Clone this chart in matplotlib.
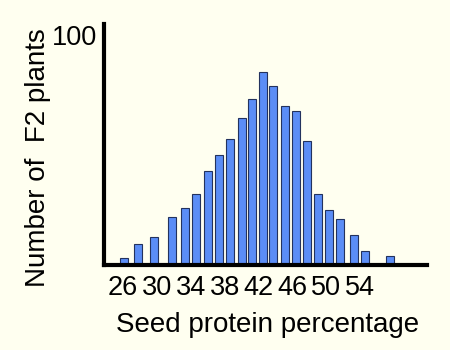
import matplotlib.pyplot as plt

plt.rcParams['font.family'] = ['Liberation Sans', 'DejaVu Sans']

# bar centres (seed protein %) and counts
protein = [26.1, 27.8, 29.7, 31.8, 33.3, 34.6, 36.0, 37.3, 38.7, 40.1, 41.3,
           42.6, 43.7, 45.1, 46.5, 47.8, 49.1, 50.3, 51.7, 53.3, 54.6, 57.6]
plants = [3, 9, 12, 21, 25, 31, 41, 48, 55, 64, 72,
          84, 78, 69, 67, 54, 31, 24, 20, 13, 6, 4]
xticks = [26, 30, 34, 38, 42, 46, 50, 54]
yticks = [100]

bg = '#FFFFF0'
fig = plt.figure(figsize=(4.5, 3.5), dpi=100, facecolor=bg)
ax = fig.add_axes([0.2311, 0.2429, 0.7178, 0.6885], facecolor=bg)

ax.bar(protein, plants, width=0.95, color='#5B8DF6', edgecolor='#23325e', linewidth=0.8)

ax.set_xlim(23.75, 61.93)
ax.set_ylim(0, 104.8)
ax.set_xticks(xticks)
ax.set_yticks(yticks)
ax.tick_params(length=0, labelsize=19.5)
ax.tick_params(axis='x', pad=7)
ax.tick_params(axis='y', pad=5)

for s in ['top', 'right']:
    ax.spines[s].set_visible(False)
for s in ['left', 'bottom']:
    ax.spines[s].set_linewidth(3)
    ax.spines[s].set_color('black')

fig.text(268 / 450, 1 - 332 / 350, 'Seed protein percentage', fontsize=20,
         ha='center', va='baseline')
fig.text(38 / 450, 1 - 158 / 350, 'Number of  F2 plants', fontsize=20,
         rotation=90, ha='center', va='center')

fig.savefig('out.png', dpi=100, facecolor=bg)
